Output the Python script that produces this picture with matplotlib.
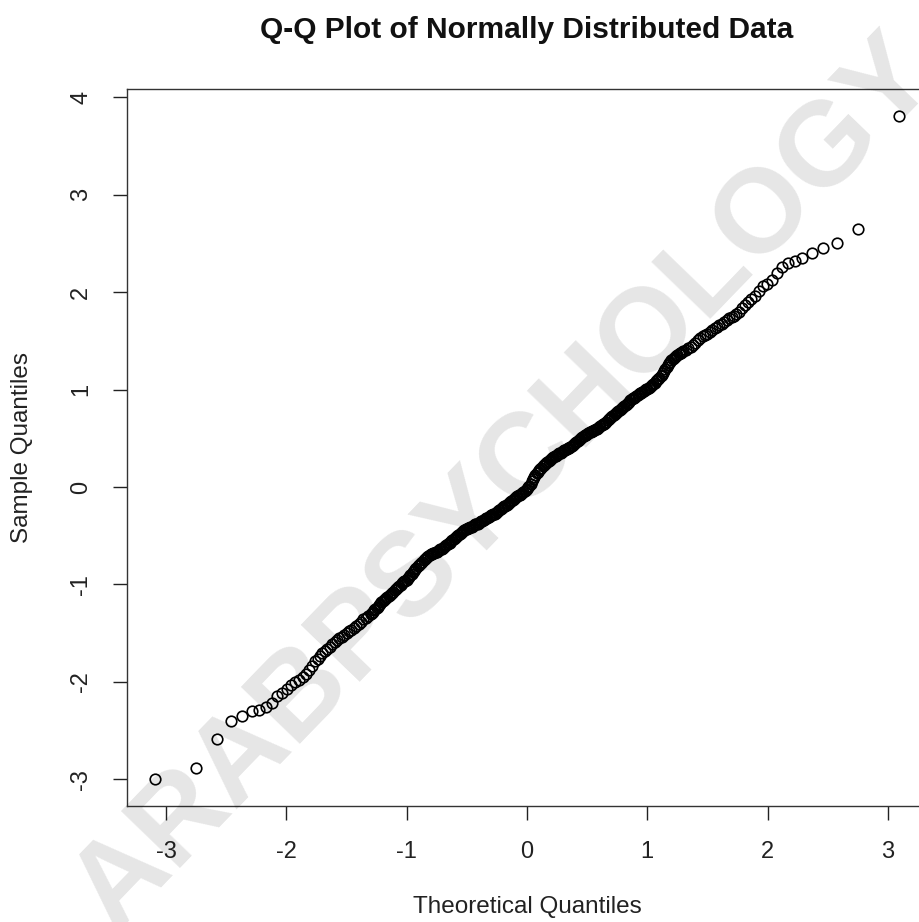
"""Normal Q-Q plot (R qqnorm look-alike), n = 500 sample."""

import matplotlib

matplotlib.use("Agg")
import matplotlib.pyplot as plt

plt.rcParams["font.family"] = ["Liberation Sans", "DejaVu Sans"]
plt.rcParams["axes.unicode_minus"] = False

# ---- data --------------------------------------------------------------------
# lower tail, one point each
theo_lower = [-3.090, -2.748, -2.576, -2.457, -2.366, -2.290, -2.226, -2.170, -2.120, -2.075,
              -2.034, -1.996, -1.960, -1.927, -1.896, -1.866, -1.838, -1.812, -1.786, -1.762]
samp_lower = [-3.00, -2.89, -2.59, -2.40, -2.35, -2.30, -2.29, -2.26, -2.22, -2.15,
              -2.12, -2.07, -2.03, -2.00, -1.98, -1.95, -1.92, -1.88, -1.84, -1.79]

# lower shoulder
theo_shoulder_lo = [-1.74, -1.72, -1.70, -1.68, -1.66, -1.64, -1.62, -1.60, -1.58, -1.56,
                    -1.54, -1.52, -1.50, -1.48, -1.46, -1.44, -1.42, -1.40, -1.38, -1.36,
                    -1.34, -1.32]
samp_shoulder_lo = [-1.77, -1.73, -1.70, -1.68, -1.66, -1.64, -1.61, -1.59, -1.57, -1.55,
                    -1.54, -1.52, -1.50, -1.48, -1.47, -1.45, -1.43, -1.41, -1.39, -1.36,
                    -1.34, -1.32]

# dense core
theo_core = [
    -1.30, -1.29, -1.28, -1.27, -1.26, -1.25, -1.24, -1.23, -1.22, -1.21,
    -1.20, -1.19, -1.18, -1.17, -1.16, -1.15, -1.14, -1.13, -1.12, -1.11,
    -1.10, -1.09, -1.08, -1.07, -1.06, -1.05, -1.04, -1.03, -1.02, -1.01,
    -1.00, -0.99, -0.98, -0.97, -0.96, -0.95, -0.94, -0.93, -0.92, -0.91,
    -0.90, -0.89, -0.88, -0.87, -0.86, -0.85, -0.84, -0.83, -0.82, -0.81,
    -0.80, -0.79, -0.78, -0.77, -0.76, -0.75, -0.74, -0.73, -0.72, -0.71,
    -0.70, -0.69, -0.68, -0.67, -0.66, -0.65, -0.64, -0.63, -0.62, -0.61,
    -0.60, -0.59, -0.58, -0.57, -0.56, -0.55, -0.54, -0.53, -0.52, -0.51,
    -0.50, -0.49, -0.48, -0.47, -0.46, -0.45, -0.44, -0.43, -0.42, -0.41,
    -0.40, -0.39, -0.38, -0.37, -0.36, -0.35, -0.34, -0.33, -0.32, -0.31,
    -0.30, -0.29, -0.28, -0.27, -0.26, -0.25, -0.24, -0.23, -0.22, -0.21,
    -0.20, -0.19, -0.18, -0.17, -0.16, -0.15, -0.14, -0.13, -0.12, -0.11,
    -0.10, -0.09, -0.08, -0.07, -0.06, -0.05, -0.04, -0.03, -0.02, -0.01,
    0.00, 0.01, 0.02, 0.03, 0.04, 0.05, 0.06, 0.07, 0.08, 0.09,
    0.10, 0.11, 0.12, 0.13, 0.14, 0.15, 0.16, 0.17, 0.18, 0.19,
    0.20, 0.21, 0.22, 0.23, 0.24, 0.25, 0.26, 0.27, 0.28, 0.29,
    0.30, 0.31, 0.32, 0.33, 0.34, 0.35, 0.36, 0.37, 0.38, 0.39,
    0.40, 0.41, 0.42, 0.43, 0.44, 0.45, 0.46, 0.47, 0.48, 0.49,
    0.50, 0.51, 0.52, 0.53, 0.54, 0.55, 0.56, 0.57, 0.58, 0.59,
    0.60, 0.61, 0.62, 0.63, 0.64, 0.65, 0.66, 0.67, 0.68, 0.69,
    0.70, 0.71, 0.72, 0.73, 0.74, 0.75, 0.76, 0.77, 0.78, 0.79,
    0.80, 0.81, 0.82, 0.83, 0.84, 0.85, 0.86, 0.87, 0.88, 0.89,
    0.90, 0.91, 0.92, 0.93, 0.94, 0.95, 0.96, 0.97, 0.98, 0.99,
    1.00, 1.01, 1.02, 1.03, 1.04, 1.05, 1.06, 1.07, 1.08, 1.09,
    1.10, 1.11, 1.12, 1.13, 1.14, 1.15, 1.16, 1.17, 1.18, 1.19,
    1.20, 1.21, 1.22, 1.23, 1.24, 1.25, 1.26, 1.27, 1.28, 1.29,
    1.30,
]
samp_core = [
    -1.30, -1.29, -1.28, -1.265, -1.25, -1.24, -1.23, -1.215, -1.20, -1.185,
    -1.17, -1.16, -1.15, -1.14, -1.13, -1.12, -1.11, -1.10, -1.09, -1.075,
    -1.06, -1.05, -1.04, -1.03, -1.02, -1.005, -0.99, -0.98, -0.97, -0.96,
    -0.95, -0.935, -0.92, -0.905, -0.89, -0.875, -0.86, -0.845, -0.83, -0.815,
    -0.80, -0.79, -0.78, -0.765, -0.75, -0.74, -0.73, -0.72, -0.71, -0.70,
    -0.69, -0.685, -0.68, -0.675, -0.67, -0.665, -0.66, -0.65, -0.64, -0.635,
    -0.63, -0.62, -0.61, -0.60, -0.59, -0.58, -0.57, -0.555, -0.54, -0.53,
    -0.52, -0.51, -0.50, -0.49, -0.48, -0.47, -0.46, -0.45, -0.44, -0.435,
    -0.43, -0.425, -0.42, -0.415, -0.41, -0.40, -0.39, -0.385, -0.38, -0.375,
    -0.37, -0.36, -0.35, -0.345, -0.34, -0.33, -0.32, -0.315, -0.31, -0.30,
    -0.29, -0.285, -0.28, -0.275, -0.27, -0.26, -0.25, -0.24, -0.23, -0.22,
    -0.21, -0.20, -0.19, -0.18, -0.17, -0.16, -0.15, -0.14, -0.13, -0.12,
    -0.11, -0.10, -0.09, -0.085, -0.08, -0.07, -0.06, -0.05, -0.04, -0.03,
    -0.02, -0.005, 0.01, 0.035, 0.06, 0.08, 0.10, 0.12, 0.14, 0.155,
    0.17, 0.185, 0.20, 0.215, 0.23, 0.24, 0.25, 0.26, 0.27, 0.28,
    0.29, 0.30, 0.31, 0.315, 0.32, 0.33, 0.34, 0.345, 0.35, 0.36,
    0.37, 0.375, 0.38, 0.39, 0.40, 0.405, 0.41, 0.42, 0.43, 0.44,
    0.45, 0.46, 0.47, 0.48, 0.49, 0.50, 0.51, 0.52, 0.53, 0.535,
    0.54, 0.55, 0.56, 0.565, 0.57, 0.58, 0.59, 0.595, 0.60, 0.61,
    0.62, 0.63, 0.64, 0.645, 0.65, 0.66, 0.67, 0.685, 0.70, 0.71,
    0.72, 0.73, 0.74, 0.75, 0.76, 0.77, 0.78, 0.79, 0.80, 0.81,
    0.82, 0.83, 0.84, 0.85, 0.86, 0.875, 0.89, 0.90, 0.91, 0.915,
    0.92, 0.93, 0.94, 0.95, 0.96, 0.97, 0.98, 0.99, 1.00, 1.005,
    1.01, 1.02, 1.03, 1.04, 1.05, 1.06, 1.07, 1.085, 1.10, 1.11,
    1.12, 1.135, 1.15, 1.17, 1.19, 1.21, 1.23, 1.25, 1.27, 1.285,
    1.30, 1.31, 1.32, 1.335, 1.35, 1.36, 1.37, 1.375, 1.38, 1.39,
    1.40,
]

# upper shoulder
theo_shoulder_hi = [1.32, 1.34, 1.36, 1.38, 1.40, 1.42, 1.44, 1.46, 1.48, 1.50,
                    1.52, 1.54, 1.56, 1.58, 1.60, 1.62, 1.64, 1.66, 1.68, 1.70,
                    1.72, 1.74]
samp_shoulder_hi = [1.41, 1.43, 1.44, 1.46, 1.48, 1.51, 1.53, 1.55, 1.56, 1.57,
                    1.59, 1.61, 1.63, 1.64, 1.66, 1.67, 1.69, 1.71, 1.73, 1.75,
                    1.76, 1.78]

# upper tail, one point each
theo_upper = [1.762, 1.786, 1.812, 1.838, 1.866, 1.896, 1.927, 1.960, 1.996, 2.034,
              2.075, 2.120, 2.170, 2.226, 2.290, 2.366, 2.457, 2.576, 2.748, 3.090]
samp_upper = [1.80, 1.84, 1.87, 1.90, 1.93, 1.96, 2.01, 2.06, 2.08, 2.13,
              2.20, 2.26, 2.30, 2.32, 2.35, 2.40, 2.45, 2.50, 2.65, 3.81]

x_ticks = [-3, -2, -1, 0, 1, 2, 3]
y_ticks = [-3, -2, -1, 0, 1, 2, 3, 4]

TITLE = "Q-Q Plot of Normally Distributed Data"
X_LABEL = "Theoretical Quantiles"
Y_LABEL = "Sample Quantiles"
WATERMARK = "ARABPSYCHOLOGY"

# ---- figure ------------------------------------------------------------------
W, H = 920, 922
fig = plt.figure(figsize=(W / 100, H / 100), dpi=100)
# plot box: left 127px, top 89px, bottom 806px, right edge runs off the image
ax = fig.add_axes([127 / W, 1 - 806 / H, 800 / W, (806 - 89) / H])

pt_kw = dict(ls="none", marker="o", mfc="none", mec="black", ms=7.6, mew=1.2)
for xs, ys in [(theo_lower, samp_lower), (theo_shoulder_lo, samp_shoulder_lo),
               (theo_core, samp_core), (theo_shoulder_hi, samp_shoulder_hi),
               (theo_upper, samp_upper)]:
    ax.plot(xs, ys, **pt_kw)

ax.set_xlim(-3.325, 3.325)
ax.set_ylim(-3.275, 4.086)
ax.set_xticks(x_ticks)
ax.set_yticks(y_ticks)
ax.set_xticklabels([str(t) for t in x_ticks])
ax.set_yticklabels([str(t) for t in y_ticks], rotation=90, va="center")
ax.tick_params(direction="out", length=10, width=1.0, pad=15, labelsize=17,
               colors="#222222")
for sp in ax.spines.values():
    sp.set_linewidth(1.0)
    sp.set_color("#333333")

fig.text(527 / W, 1 - 30 / H, TITLE, ha="center", va="center",
         fontsize=21.5, fontweight="bold", color="#111111")
fig.text(527 / W, 1 - 907 / H, X_LABEL, ha="center", va="center",
         fontsize=17.5, color="#222222")
fig.text(22 / W, 1 - 447 / H, Y_LABEL, ha="center", va="center",
         rotation=90, fontsize=17.5, color="#222222")

# faint diagonal watermark across the whole picture
fig.text(505 / W, 1 - 485 / H, WATERMARK, ha="center", va="center",
         rotation=46, fontsize=86, fontweight="bold", color="black", alpha=0.10)

fig.savefig("out.png", dpi=100)
